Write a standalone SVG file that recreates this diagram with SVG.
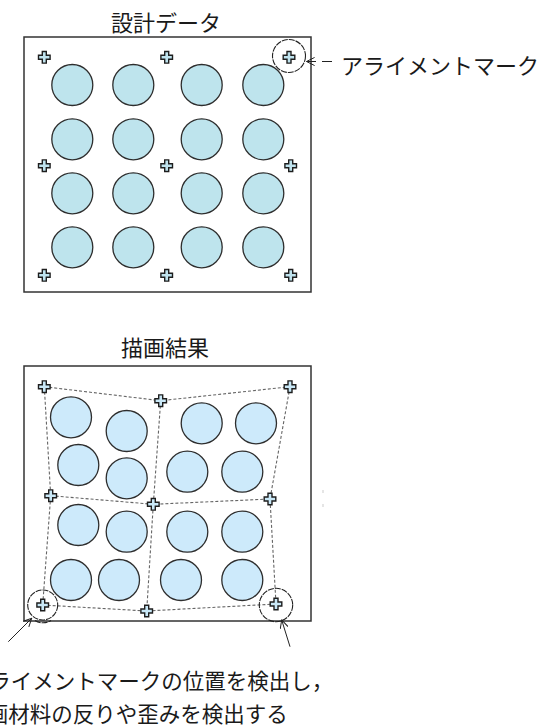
<svg xmlns="http://www.w3.org/2000/svg" width="543" height="728" viewBox="0 0 543 728">
  <style>
    .txt { font-family: "Noto Sans CJK JP", "Noto Sans", sans-serif; fill: #1a1a1a; }
    .frame { fill: #ffffff; stroke: #333333; stroke-width: 1.5; }
    .dot1 { fill: #bee4ed; stroke: #2e2e2e; stroke-width: 1.3; }
    .dot2 { fill: #cdeafb; stroke: #2e2e2e; stroke-width: 1.3; }
    .mk1 { fill: #bfe3ee; stroke: #1e1e1e; stroke-width: 1.4; }
    .mk2 { fill: #c9e8f7; stroke: #1e1e1e; stroke-width: 1.4; }
    .ring { fill: none; stroke: #222222; stroke-width: 1.1; stroke-dasharray: 6 1; }
    .grid { fill: none; stroke: #666666; stroke-width: 1.1; stroke-dasharray: 3 2; }
    .arrow { fill: none; stroke: #222222; stroke-width: 1; }
  </style>
  <defs>
    <path id="cross" d="M -2,-5.8 H 2 V -2 H 5.8 V 2 H 2 V 5.8 H -2 V 2 H -5.8 V -2 H -2 Z"/>
    <marker id="open" viewBox="0 0 10 10" refX="9" refY="5" markerWidth="9" markerHeight="9" markerUnits="userSpaceOnUse" orient="auto">
      <path d="M 0,0.5 L 9,5 L 0,9.5" fill="none" stroke="#222222" stroke-width="1.1"/>
    </marker>
  </defs>

  <rect width="543" height="728" fill="#ffffff"/>

  <!-- Top: design data -->
  <g id="design-title">
    <text class="txt" x="166" y="30.5" font-size="22" text-anchor="middle">設計データ</text>
  </g>
  <g id="design-frame">
    <rect class="frame" x="24" y="37" width="287" height="255"/>
  </g>
  <g id="design-dots">
    <circle class="dot1" cx="72.3" cy="85" r="20.5"/>
    <circle class="dot1" cx="133.3" cy="85" r="20.5"/>
    <circle class="dot1" cx="201.7" cy="85" r="20.5"/>
    <circle class="dot1" cx="263.3" cy="85" r="20.5"/>
    <circle class="dot1" cx="72.3" cy="139.3" r="20.5"/>
    <circle class="dot1" cx="133.3" cy="139.3" r="20.5"/>
    <circle class="dot1" cx="201.7" cy="139.3" r="20.5"/>
    <circle class="dot1" cx="263.3" cy="139.3" r="20.5"/>
    <circle class="dot1" cx="72.3" cy="193.3" r="20.5"/>
    <circle class="dot1" cx="133.3" cy="193.3" r="20.5"/>
    <circle class="dot1" cx="201.7" cy="193.3" r="20.5"/>
    <circle class="dot1" cx="263.3" cy="193.3" r="20.5"/>
    <circle class="dot1" cx="72.3" cy="247.3" r="20.5"/>
    <circle class="dot1" cx="133.3" cy="247.3" r="20.5"/>
    <circle class="dot1" cx="201.7" cy="247.3" r="20.5"/>
    <circle class="dot1" cx="263.3" cy="247.3" r="20.5"/>
  </g>
  <g id="design-marks">
    <use href="#cross" class="mk1" x="44.3" y="57.3"/>
    <use href="#cross" class="mk1" x="166.7" y="57.3"/>
    <use href="#cross" class="mk1" x="289" y="57.3"/>
    <use href="#cross" class="mk1" x="44.3" y="165.7"/>
    <use href="#cross" class="mk1" x="166.7" y="165.7"/>
    <use href="#cross" class="mk1" x="290.7" y="165.7"/>
    <use href="#cross" class="mk1" x="44.3" y="275.3"/>
    <use href="#cross" class="mk1" x="166.7" y="275.3"/>
    <use href="#cross" class="mk1" x="290.7" y="275.3"/>
  </g>
  <g id="design-mark-ring">
    <circle class="ring" cx="289" cy="56" r="16.5"/>
  </g>
  <g id="label-alignment">
    <text class="txt" x="341" y="73.5" font-size="22">アライメントマーク</text>
  </g>

  <!-- Bottom: drawing result -->
  <g id="result-title">
    <text class="txt" x="165" y="355.5" font-size="22" text-anchor="middle">描画結果</text>
  </g>
  <g id="result-frame">
    <rect class="frame" x="24" y="366" width="287" height="255"/>
  </g>
  <g id="result-dots">
    <circle class="dot2" cx="71" cy="417.3" r="20.5"/>
    <circle class="dot2" cx="126.7" cy="431" r="20.5"/>
    <circle class="dot2" cx="201.7" cy="423.3" r="20.5"/>
    <circle class="dot2" cx="256" cy="423.3" r="20.5"/>
    <circle class="dot2" cx="78.3" cy="465" r="20.5"/>
    <circle class="dot2" cx="126.7" cy="478.3" r="20.5"/>
    <circle class="dot2" cx="187.3" cy="471.7" r="20.5"/>
    <circle class="dot2" cx="242.3" cy="471.7" r="20.5"/>
    <circle class="dot2" cx="78.3" cy="525" r="20.5"/>
    <circle class="dot2" cx="126.7" cy="531.7" r="20.5"/>
    <circle class="dot2" cx="187.3" cy="531.7" r="20.5"/>
    <circle class="dot2" cx="242.3" cy="531.7" r="20.5"/>
    <circle class="dot2" cx="71" cy="580" r="20.5"/>
    <circle class="dot2" cx="119" cy="580" r="20.5"/>
    <circle class="dot2" cx="181" cy="580" r="20.5"/>
    <circle class="dot2" cx="242.3" cy="580" r="20.5"/>
  </g>

  <g id="connectors">
    <polyline class="grid" points="44.3,386.7 160.7,400.7 290,386.7"/>
    <polyline class="grid" points="50.7,495.7 153.3,504.3 270,499"/>
    <polyline class="grid" points="42.7,605 146.7,611 276,604"/>
    <polyline class="grid" points="44.3,386.7 50.7,495.7 42.7,605"/>
    <polyline class="grid" points="160.7,400.7 153.3,504.3 146.7,611"/>
    <polyline class="grid" points="290,386.7 270,499 276,604"/>
    <line class="arrow" x1="316" y1="61.5" x2="306.5" y2="61.5" marker-end="url(#open)"/>
    <line class="arrow" x1="322" y1="61.5" x2="332" y2="61.5"/>
    <line class="arrow" x1="8.3" y1="641.7" x2="31.7" y2="618.3" marker-end="url(#open)"/>
    <line class="arrow" x1="290" y1="646.7" x2="281.7" y2="620" marker-end="url(#open)"/>
  </g>

  <g id="result-marks">
    <use href="#cross" class="mk2" x="44.3" y="386.7"/>
    <use href="#cross" class="mk2" x="160.7" y="400.7"/>
    <use href="#cross" class="mk2" x="290" y="386.7"/>
    <use href="#cross" class="mk2" x="50.7" y="495.7"/>
    <use href="#cross" class="mk2" x="153.3" y="504.3"/>
    <use href="#cross" class="mk2" x="270" y="499"/>
    <use href="#cross" class="mk2" x="42.7" y="605"/>
    <use href="#cross" class="mk2" x="146.7" y="611"/>
    <use href="#cross" class="mk2" x="276" y="604"/>
  </g>
  <g id="result-mark-rings">
    <circle class="ring" cx="42.7" cy="605" r="15"/>
    <path class="ring" d="M 35,620.5 A 15 15 0 0 0 51,620.5"/>
    <circle class="ring" cx="276" cy="605" r="16.7"/>
  </g>

  <g id="specks">
    <rect x="322.5" y="490" width="1" height="3" fill="#cccccc"/>
    <rect x="322.5" y="504" width="1" height="3" fill="#cccccc"/>
  </g>

  <g id="caption">
    <text class="txt" x="-32.25" y="688.5" font-size="21.5">アライメントマークの位置を検出し，</text>
    <text class="txt" x="-56.25" y="721.5" font-size="21.5">被描画材料の反りや歪みを検出する</text>
  </g>
</svg>
